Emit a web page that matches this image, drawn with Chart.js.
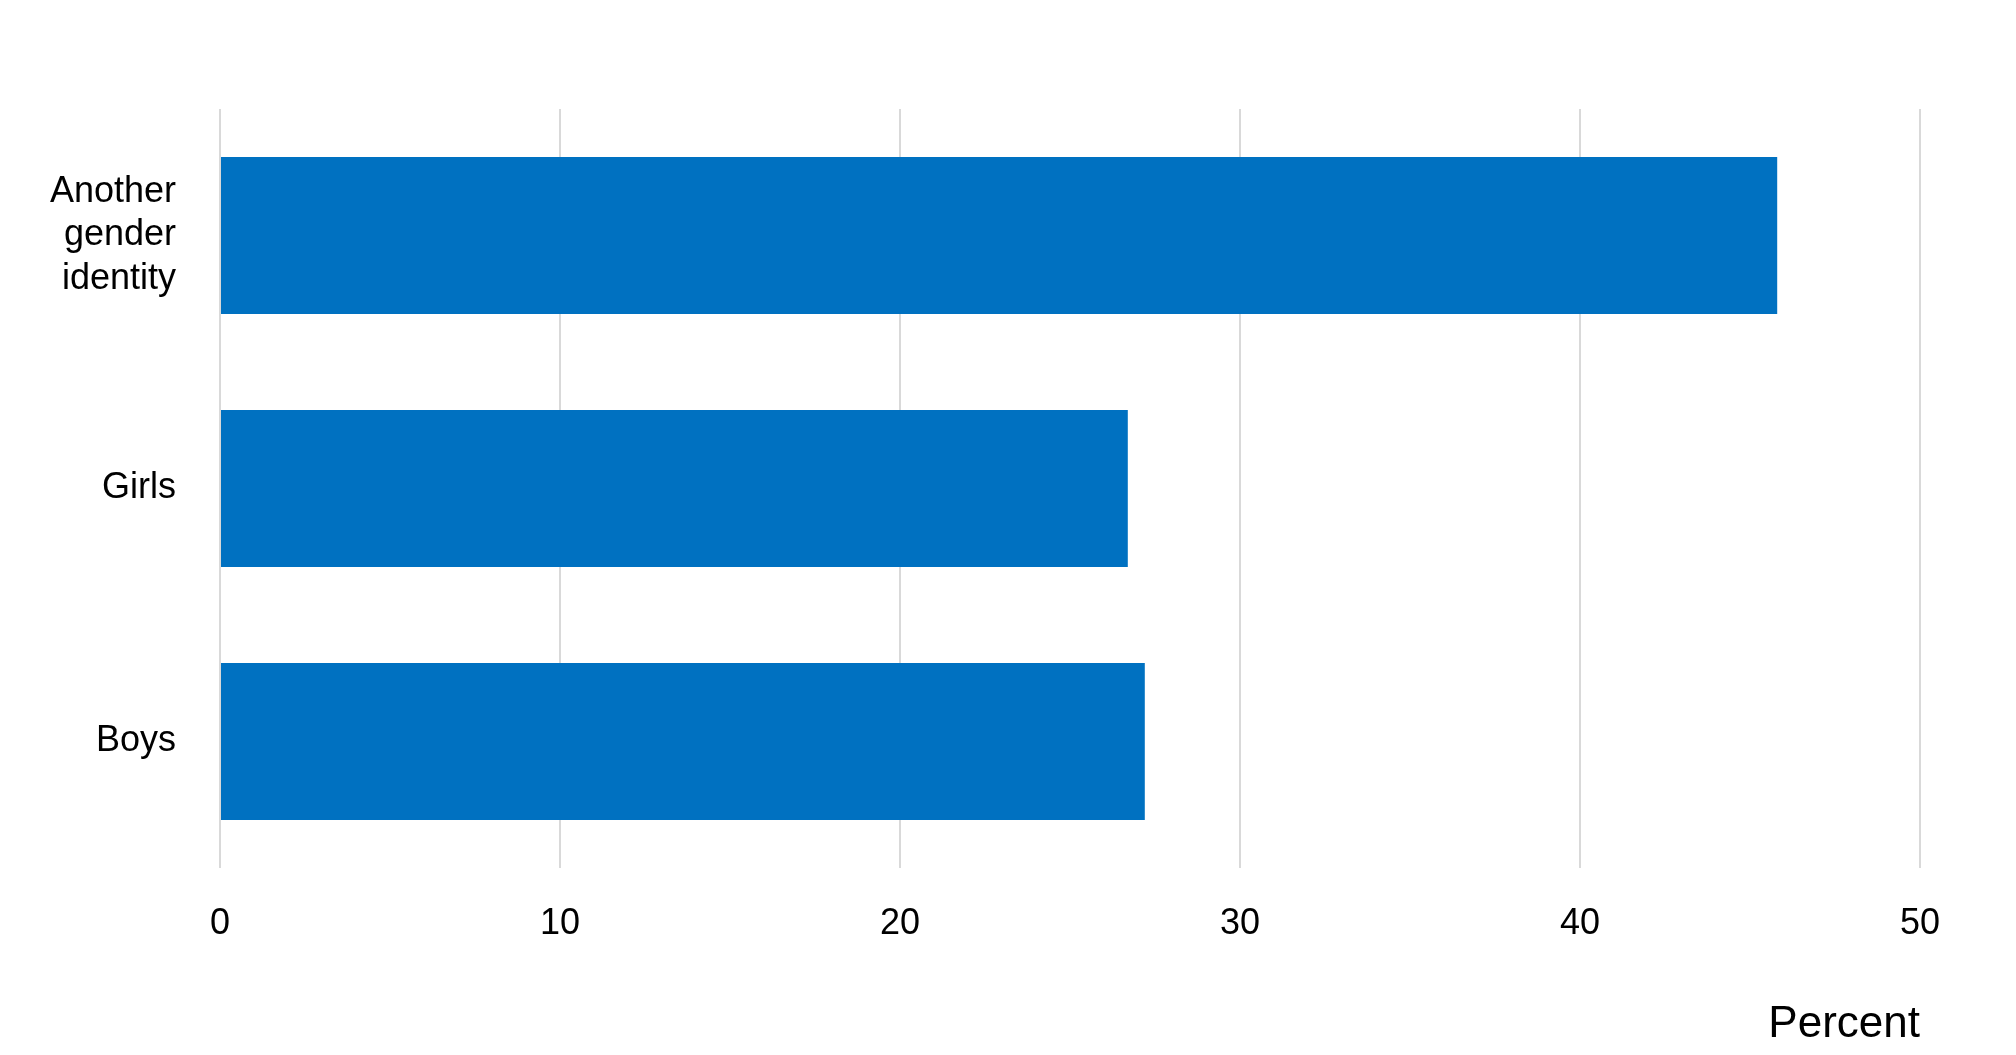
<!DOCTYPE html>
<html>
<head>
<meta charset="utf-8">
<script src="https://cdn.jsdelivr.net/npm/chart.js@4"></script>
<style>
  html, body { margin: 0; padding: 0; background: #fff; }
  #wrap { width: 2016px; height: 1055px; }
</style>
</head>
<body>
<div id="wrap"><canvas id="chart"></canvas></div>
<script>
const categories = [["Another", "gender", "identity"], "Girls", "Boys"];
const percentValues = [45.8, 26.7, 27.2];
const xTicks = [0, 10, 20, 30, 40, 50];

Chart.defaults.font.family = "'Liberation Sans', Arial, sans-serif";
Chart.defaults.color = "#000";

new Chart(document.getElementById("chart").getContext("2d"), {
  type: "bar",
  data: {
    labels: categories,
    datasets: [{
      data: percentValues,
      backgroundColor: "#0071c1",
      barPercentage: 0.62,
      categoryPercentage: 1
    }]
  },
  options: {
    indexAxis: "y",
    responsive: true,
    maintainAspectRatio: false,
    animation: false,
    layout: { padding: { top: 109, right: 96, bottom: 0, left: 0 } },
    plugins: { legend: { display: false }, tooltip: { enabled: false } },
    scales: {
      x: {
        min: 0,
        max: 50,
        afterBuildTicks: axis => { axis.ticks = xTicks.map(v => ({ value: v })); },
        grid: { color: "#d9d9d9", lineWidth: 2, drawTicks: false },
        border: { display: false },
        ticks: { font: { size: 36 }, padding: 34 },
        title: {
          display: true,
          text: "Percent",
          align: "end",
          font: { size: 44 },
          padding: { top: 22 }
        },
        afterFit: axis => { axis.height = 187; }
      },
      y: {
        grid: { display: false },
        border: { display: false },
        ticks: { font: { size: 36 }, padding: 36 },
        afterFit: axis => { axis.width = 220; }
      }
    }
  }
});
</script>
</body>
</html>
